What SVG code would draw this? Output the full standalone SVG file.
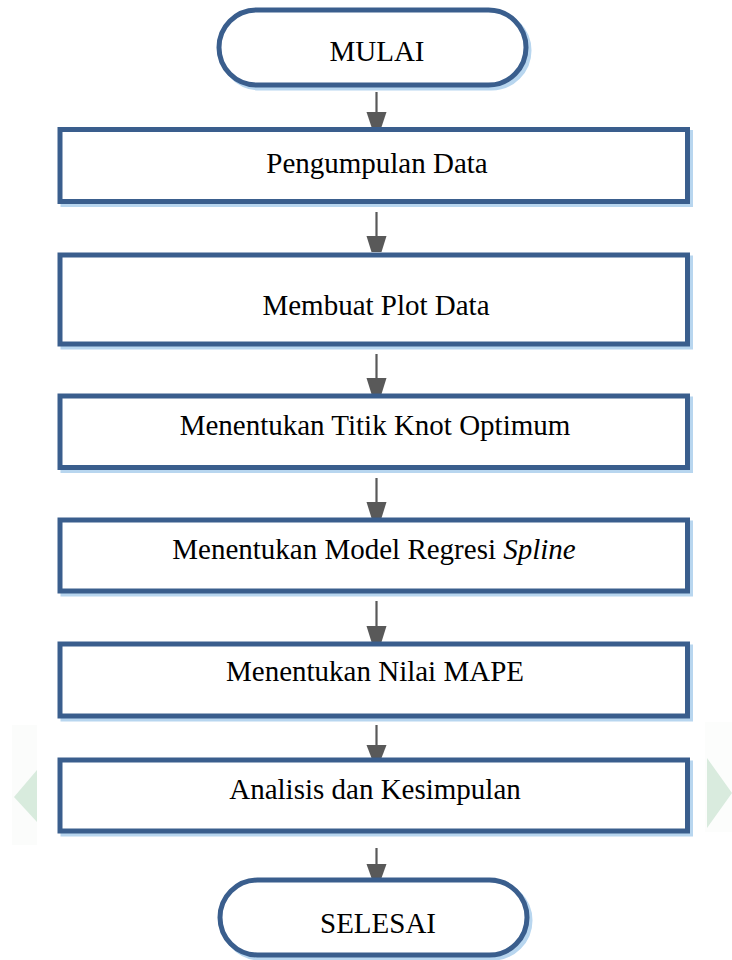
<svg xmlns="http://www.w3.org/2000/svg" width="732" height="960" viewBox="0 0 732 960">
<style>
.sh{fill:none;stroke:#b8d6ef;stroke-width:5}
.bx{fill:#ffffff;stroke:#3a5e8d;stroke-width:5}
.t{font-family:"Liberation Serif","Times New Roman",serif;font-size:29px;fill:#000;text-anchor:middle}
.ln{stroke:#595959;stroke-width:2.2;fill:none}
.hd{fill:#595959}
.wm{fill:#d0e6d6}
</style>
<rect width="732" height="960" fill="#ffffff"/>
<g id="watermark">
<rect x="12" y="725" width="25" height="120" fill="#f7faf8" opacity="0.5"/>
<polygon class="wm" points="37,770 37,822 14,797" opacity="0.8"/>
<rect x="705" y="722" width="27" height="110" fill="#f7faf8" opacity="0.4"/>
<polygon class="wm" points="707,758 707,828 732,793" opacity="0.8"/>
</g>
<g id="connectors">
<line class="ln" x1="376.5" y1="92" x2="376.5" y2="114"/><polygon class="hd" points="366.5,112 386.5,112 381.5,127 371.5,127"/>
<line class="ln" x1="376.5" y1="212" x2="376.5" y2="238"/><polygon class="hd" points="366.5,236 386.5,236 381.5,252 371.5,252"/>
<line class="ln" x1="376.5" y1="354" x2="376.5" y2="380"/><polygon class="hd" points="366.5,378 386.5,378 381.5,394 371.5,394"/>
<line class="ln" x1="376.5" y1="478" x2="376.5" y2="504"/><polygon class="hd" points="366.5,502 386.5,502 381.5,518 371.5,518"/>
<line class="ln" x1="376.5" y1="601" x2="376.5" y2="628"/><polygon class="hd" points="366.5,626 386.5,626 381.5,642 371.5,642"/>
<line class="ln" x1="376.5" y1="725" x2="376.5" y2="747"/><polygon class="hd" points="366.5,745 386.5,745 381.5,758 371.5,758"/>
<line class="ln" x1="376.5" y1="848" x2="376.5" y2="866"/><polygon class="hd" points="366.5,864 386.5,864 381.5,878 371.5,878"/>
</g>
<g id="mulai">
<rect class="sh" x="222" y="13" width="307" height="75" rx="37.5"/>
<rect class="bx" x="219" y="10" width="307" height="75" rx="37.5"/>
<text class="t" x="377" y="61" font-size="30">MULAI</text>
</g>
<g id="n1">
<rect class="sh" x="63" y="132.5" width="627.5" height="72"/>
<rect class="bx" x="60" y="129.5" width="627.5" height="72"/>
<text class="t" x="377" y="173">Pengumpulan Data</text>
</g>
<g id="n2">
<rect class="sh" x="63" y="258" width="627.5" height="89"/>
<rect class="bx" x="60" y="255" width="627.5" height="89"/>
<text class="t" x="376" y="315">Membuat Plot Data</text>
</g>
<g id="n3">
<rect class="sh" x="63" y="399" width="627.5" height="71.5"/>
<rect class="bx" x="60" y="396" width="627.5" height="71.5"/>
<text class="t" x="375" y="435">Menentukan Titik Knot Optimum</text>
</g>
<g id="n4">
<rect class="sh" x="63" y="523" width="627.5" height="71"/>
<rect class="bx" x="60" y="520" width="627.5" height="71"/>
<text class="t" x="374" y="559">Menentukan Model Regresi <tspan font-style="italic">Spline</tspan></text>
</g>
<g id="n5">
<rect class="sh" x="63" y="647" width="627.5" height="72"/>
<rect class="bx" x="60" y="644" width="627.5" height="72"/>
<text class="t" x="375" y="681">Menentukan Nilai MAPE</text>
</g>
<g id="n6">
<rect class="sh" x="63" y="763" width="627.5" height="71"/>
<rect class="bx" x="60" y="760" width="627.5" height="71"/>
<text class="t" x="375" y="799">Analisis dan Kesimpulan</text>
</g>
<g id="selesai">
<rect class="sh" x="223" y="883" width="307" height="75" rx="37.5"/>
<rect class="bx" x="220" y="880" width="307" height="75" rx="37.5"/>
<text class="t" x="378" y="933" font-size="30">SELESAI</text>
</g>
</svg>
